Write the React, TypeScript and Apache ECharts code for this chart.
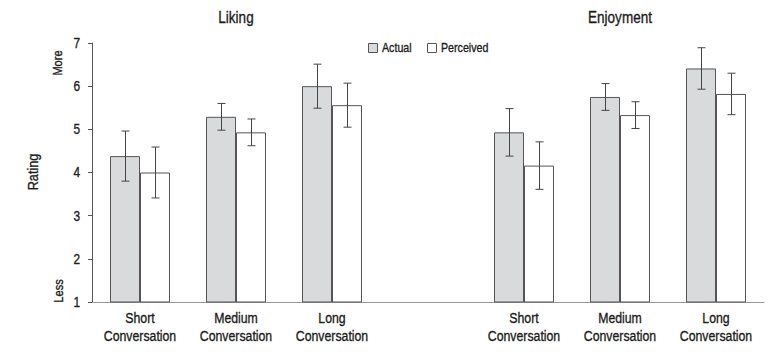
import React, { useEffect, useRef } from "react";
import * as echarts from "echarts";

const categories = [
  "Short\nConversation",
  "Medium\nConversation",
  "Long\nConversation",
  "",
  "Short\nConversation",
  "Medium\nConversation",
  "Long\nConversation",
];
const panelTitles = ["Liking", "Enjoyment"];
const titleCategoryIndex = [1, 5];
const seriesNames = ["Actual", "Perceived"];
const actualValues: (number | string)[] = [4.38, 5.29, 6.0, "-", 4.93, 5.75, 6.41];
const perceivedValues: (number | string)[] = [4.0, 4.93, 5.56, "-", 4.16, 5.33, 5.82];
const actualErrors = [0.58, 0.31, 0.51, 0, 0.55, 0.31, 0.48];
const perceivedErrors = [0.59, 0.31, 0.51, 0, 0.55, 0.31, 0.48];
const yTicks = [1, 2, 3, 4, 5, 6, 7];

const FONT = "'Liberation Sans', Arial, sans-serif";
const SX = 0.82; // narrow the sans face, as in the reference's condensed type
const BAR_W = 30;
const INK = "#1c1c1c";
const BAR_FILL = ["#d9dadc", "#ffffff"];
const EDGE = "#555";

function txt(text: string, x: number, y: number, size: number, align: string, valign: string, extra: any = {}) {
  return {
    type: "text",
    x,
    y,
    scaleX: SX,
    silent: true,
    style: {
      text,
      font: `${size}px ${FONT}`,
      fill: INK,
      stroke: INK,
      lineWidth: 0.35,
      textAlign: align,
      textVerticalAlign: valign,
      ...extra,
    },
  };
}

export default function App() {
  const ref = useRef<HTMLDivElement>(null);
  useEffect(() => {
    const chart = echarts.init(ref.current!, null, { renderer: "svg" });

    const errData: number[][] = [];
    actualValues.forEach((v, i) => {
      if (typeof v === "number") errData.push([i, v - actualErrors[i], v + actualErrors[i], -1]);
    });
    perceivedValues.forEach((v, i) => {
      if (typeof v === "number") errData.push([i, v - perceivedErrors[i], v + perceivedErrors[i], 1]);
    });

    chart.setOption({
      animation: false,
      textStyle: { fontFamily: FONT },
      grid: { left: 92, right: 4, top: 43, bottom: 54 },
      xAxis: {
        type: "category",
        data: categories,
        axisLine: { lineStyle: { color: "#999", width: 1 } },
        axisTick: { show: false },
        axisLabel: { show: false },
      },
      yAxis: {
        type: "value",
        min: yTicks[0],
        max: yTicks[yTicks.length - 1],
        interval: 1,
        splitLine: { show: false },
        axisLine: { show: true, lineStyle: { color: "#555", width: 1 } },
        axisTick: { show: true, length: 4, lineStyle: { color: "#555" } },
        axisLabel: { show: false },
      },
      series: [
        {
          name: seriesNames[0],
          type: "bar",
          data: actualValues,
          barWidth: BAR_W,
          barGap: "0%",
          itemStyle: { color: BAR_FILL[0], borderColor: EDGE, borderWidth: 1 },
        },
        {
          name: seriesNames[1],
          type: "bar",
          data: perceivedValues,
          barWidth: BAR_W,
          barGap: "0%",
          itemStyle: { color: BAR_FILL[1], borderColor: EDGE, borderWidth: 1 },
        },
        {
          type: "custom",
          data: errData,
          z: 10,
          renderItem: (params: any, api: any) => {
            const idx = api.value(0);
            const lo = api.coord([idx, api.value(1)]);
            const hi = api.coord([idx, api.value(2)]);
            const x = Math.round(lo[0] + api.value(3) * (BAR_W / 2)) + 0.5;
            const cap = 4;
            const st = { stroke: "#444", lineWidth: 1 };
            return {
              type: "group",
              children: [
                { type: "line", shape: { x1: x, y1: lo[1], x2: x, y2: hi[1] }, style: st },
                { type: "line", shape: { x1: x - cap, y1: lo[1], x2: x + cap, y2: lo[1] }, style: st },
                { type: "line", shape: { x1: x - cap, y1: hi[1], x2: x + cap, y2: hi[1] }, style: st },
              ],
            };
          },
        },
      ],
    });

    // Labels drawn as narrowed text at positions taken from the chart's own scales
    const yPix = (v: number) => chart.convertToPixel({ yAxisIndex: 0 }, v) as number;
    const xPix = (i: number) => chart.convertToPixel({ xAxisIndex: 0 }, i) as number;
    const axisLeft = 92;
    const baseY = yPix(yTicks[0]);

    const g: any[] = [];
    categories.forEach((c, i) => {
      if (c) g.push(txt(c, xPix(i), baseY + 7, 15, "center", "top", { lineHeight: 18 }));
    });
    yTicks.forEach((v) => g.push(txt(String(v), axisLeft - 12, yPix(v), 14.5, "right", "middle")));
    panelTitles.forEach((t, k) => g.push(txt(t, xPix(titleCategoryIndex[k]), 17, 16.5, "center", "middle")));

    const rot = (t: string, x: number, y: number, size: number) => ({
      ...txt(t, x, y, size, "center", "middle"),
      rotation: Math.PI / 2,
    });
    g.push(rot("Rating", 33, 172, 15.5));
    g.push(rot("More", 58, 63, 13.5));
    g.push(rot("Less", 59, 291, 13.5));

    // legend
    const legendX = [368, 427];
    seriesNames.forEach((n, k) => {
      g.push({
        type: "rect",
        silent: true,
        shape: { x: legendX[k] + 0.5, y: 43.5, width: 9, height: 9 },
        style: { fill: BAR_FILL[k], stroke: EDGE, lineWidth: 1 },
      });
      g.push(txt(n, legendX[k] + 14, 48, 13, "left", "middle"));
    });

    chart.setOption({ graphic: g });
    return () => chart.dispose();
  }, []);
  return <div ref={ref} style={{ width: 768, height: 356, position: "absolute", left: 0, top: 0 }} />;
}
